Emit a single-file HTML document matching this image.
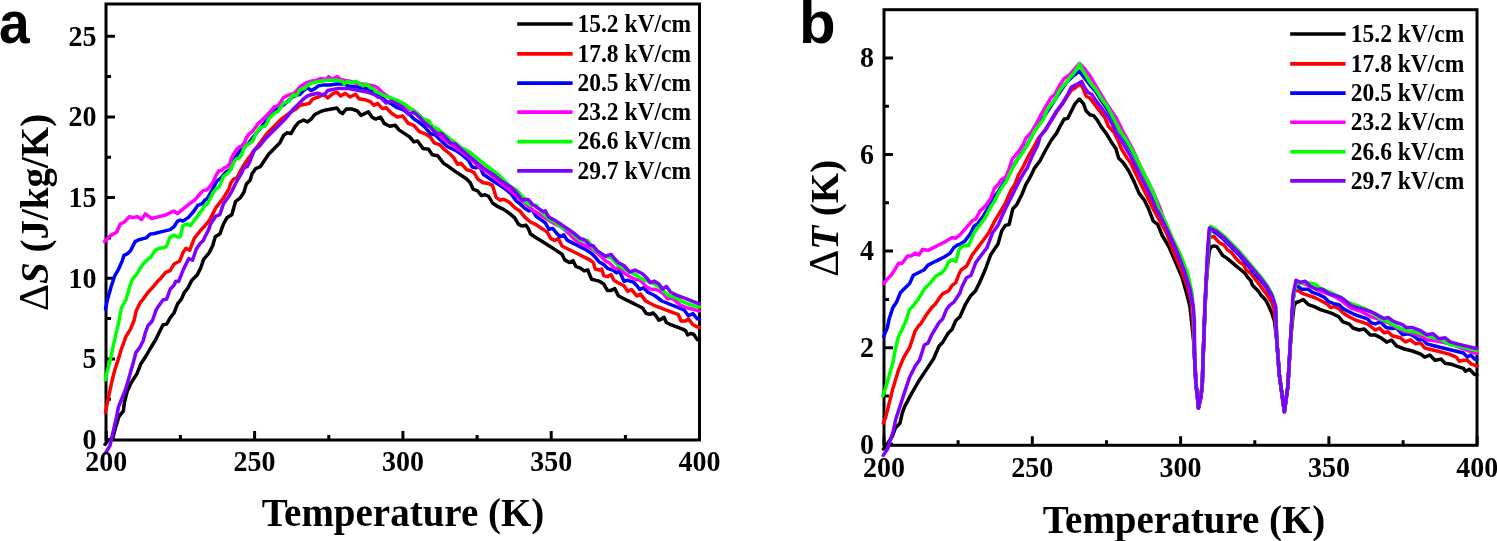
<!DOCTYPE html>
<html><head><meta charset="utf-8"><style>
html,body{margin:0;padding:0;background:#fff;width:1497px;height:541px;overflow:hidden}
svg{display:block;will-change:transform}
text{font-family:"Liberation Serif",serif;font-weight:bold;fill:#000}
.tl text{font-size:28px}
.lt{font-size:23.5px}
.at{font-size:39px}
.pl{font-family:"Liberation Sans",sans-serif;font-size:60px}
</style></head><body>
<svg width="1497" height="541" viewBox="0 0 1497 541">
<text transform="translate(-1 43.3) scale(0.92 1)" class="pl">a</text>
<text x="799" y="43.4" class="pl">b</text>
<rect x="106" y="4" width="593.5" height="436" fill="none" stroke="#000" stroke-width="3"/>
<path d="M106 439.6h9M106 358.9h9M106 278.2h9M106 197.6h9M106 116.9h9M106 36.2h9M106 399.3h5M106 318.6h5M106 237.9h5M106 157.2h5M106 76.6h5M106.3 440v-9M254.6 440v-9M402.9 440v-9M551.2 440v-9M699.5 440v-9M180.4 440v-5M328.8 440v-5M477.1 440v-5M625.4 440v-5" stroke="#000" stroke-width="3" fill="none"/>
<g fill="none" stroke-width="3.5" stroke-linejoin="round" stroke-linecap="round"><polyline points="105,444.4 107.8,440.5 112.8,437.7 115.5,427.7 118.9,416.6 123.3,411.1 124.5,402 127,392 131,383 137,373.6 140.6,364.3 146,356 150,349 155.5,340 159.2,332.4 162.9,325 166.6,324.1 170.3,317.6 174,313 177.7,303.7 181.4,299.1 184.2,292.7 187.9,288 191.6,280.6 197.1,275.1 200.8,267.7 203.6,259.4 209.1,252.9 212.8,245.5 215.2,236.8 219.8,234.1 223.5,223.9 227.2,217.4 231.8,214.7 235.5,201.7 240.1,198 243.8,192.5 246.4,184 250.1,180.3 252,173.8 255.8,168.5 260.4,166.6 264.1,161.1 268.8,154 274.3,148.4 279.9,142.8 283.6,135.4 287.3,132.7 291,133.6 294.7,127.1 298.4,122.5 303.7,120 307.4,121.9 311.1,119.1 314.8,114.5 320.3,111.7 325.9,109.9 331.4,109 337,108 339.7,111.7 342.5,113.6 346.2,109 351.7,109 357.3,110.8 361,115.4 364.7,113.6 368.4,111.7 372.1,117.3 375.7,119.1 380.5,117 384.2,123.4 389.8,126.2 395.3,125.3 399,129.9 404.6,133.6 410.1,137.3 413.8,141.9 417.5,141 423,148.4 428.6,149.3 432.3,154.8 437.8,155.7 443.4,163.1 448.9,166.8 455.5,171.6 461.1,175.3 466.6,179 470.3,182.7 473.1,189.1 477.7,191 481.4,195.6 485.1,194.7 488.8,196.5 492.5,203 498,206.7 503.6,209.4 509.1,213.1 514.7,217.8 518.4,224.2 522.1,226.1 525.8,225.1 528.7,229.3 530.5,234 536.1,237.7 543.5,242.3 550.9,246.9 556.4,250.6 562,254.3 564.7,259.8 569.3,262.6 573,260.7 575.8,266.3 580.4,268.1 584.1,270.9 587.8,270 591.5,279.2 595.2,280.1 598.9,281.1 603.7,284 607.4,290.4 611.1,290.4 614.8,288.6 618.5,296 624,298.7 631.4,302.4 637,305.2 642.5,308 646.2,313.5 650,314.3 653,312.9 655.9,315.8 658.9,320.2 661.8,318.8 664,317.3 666.3,322.5 670.7,324.7 676.6,326.9 682.5,329.1 685.5,330.6 687.7,335 690.6,333.5 693.6,334.3 697.3,339.5 699.5,340" stroke="#000000"/><polyline points="105.4,412.5 107.5,402 109.2,394 112,381 114.8,369.9 118.5,358.8 121.2,349.6 125.9,336.6 130.5,329.2 134.2,320 136.2,310.7 140.2,302.7 142.5,300 148,292.4 153.7,286.2 157.4,281.6 161.1,277.9 165.7,272.3 170.3,270.5 174,264 179.6,261.2 183.3,252 186,248.3 189.7,250.2 192.5,242.8 194.5,238 201.4,229.4 205,225.7 208.8,221.1 210.5,218.4 216.1,207.3 223.5,198 229,188.8 230.7,183 233.5,179.3 237.2,177.5 240.9,170.1 243.6,165.5 247.3,159.9 250.1,156.2 253.8,150.7 255.9,148.4 261.4,141 267,133.6 274.3,126.2 281.7,118.8 289.1,113.3 296.5,108.6 300,105.3 305.5,104.3 309.2,103.4 312.9,98.8 318.5,97 324,94.2 327.7,97.9 333.3,93.3 337,92.3 340.6,96 345.3,93.3 349.9,97 355.4,94.2 359.1,98.8 364.7,99.7 370.2,101.6 373.9,105.3 377.6,103.4 382.4,108.6 386.1,107.7 391.6,113.3 397.2,117 402.7,116 408.3,123.4 413.8,125.3 419.3,131.7 424.9,133.6 430.4,137.3 434.1,142.8 439.7,144.7 445.2,150.2 450,154 453.7,157.7 457.4,164.2 461.1,163.3 466.6,169.7 470.3,170.6 474,172.5 477.7,179 483.3,182.7 488.8,183.6 492.5,185.4 496.2,197.4 499.9,200.2 503.6,199.3 509.1,202.1 514.7,207.6 520.2,211.3 525,217.3 530.5,222 536.1,224.7 541.6,228.4 547.2,232.1 550.9,238.6 554.6,240.4 558.3,238.6 562,246 567.5,248.7 573,251.5 578.6,254.3 584.1,257.1 589.7,259.8 593.4,262.6 595.2,269.1 598.9,270 601.7,269.1 603.7,275.6 607.4,276.6 611.1,274.7 613.9,280.3 618.5,283 624,285.8 627.7,291.4 631.4,289.5 637,296 640.6,294.1 645.3,300.6 650,303.2 655.9,306.2 661.8,308.4 667.7,310.6 673.6,312.9 678.1,314.3 681,321 685.5,321 688.4,318.8 692.9,324.7 697.3,326.9 699.5,327.5" stroke="#ff0000"/><polyline points="105.5,309 107.4,300 111.1,286.8 114.8,275.7 118.5,269.3 122.2,261 124,255.4 127.7,253.6 130.5,250.8 135.1,241.6 138.8,239.7 146.2,237.9 149.9,234.2 155.4,233.3 162.8,231.4 170.2,229.6 173.9,226.8 177.6,221.2 180.2,220.2 182.9,221.1 188.5,217.4 194,211 197.7,205.4 202.3,203.6 205,199.9 207,199 212.4,189.5 216.8,181.2 220.5,178.4 226.1,172 230.7,169.2 233.5,160.9 238.1,153.5 240.9,149.8 242.7,147.9 248,144 254,136 259,130 263.3,124.3 268.8,118 274,112 279,107.5 283.6,104.9 289,100 294,96 300,94.2 303.7,90.5 307.4,87.7 311.1,90.5 314.8,88.6 318.5,85.9 324,84.9 329.6,84.9 337,84 344.3,84 348,85.9 355.4,86.8 362.8,87.7 370.2,89.6 375.5,94 380.5,96.5 386.1,101.2 391.6,104 397.2,107.7 402.7,109.6 408.3,113.3 413.8,118.8 419.3,122.5 424.9,127.1 430.4,133.6 436,135.4 441.5,141 447.1,146.5 452.6,149 455.5,150.3 461.1,154 468.5,160.5 472.2,167 475.9,167.9 479.6,166 483.3,174.3 488.8,178 494.3,181.7 499.9,185.4 505.4,189.1 511,193.7 516.5,201.1 520.2,203.9 523.9,207.6 528.7,210.9 532.4,209.9 536.1,216.4 541.6,220.1 545.3,222.9 549,229.3 552.7,228.4 556.4,233 560.1,236.7 563.8,234.9 567.5,240.4 574.9,244.1 580.4,246.9 586,249.7 591.5,253.4 595.2,257.1 598.9,261.7 603.7,264.6 607.4,268.3 612.9,270.1 616.6,272.9 619.4,271 624,281.2 627.7,280.3 633.3,282.1 637,285.8 639.7,289.5 643.4,287.7 648,292.3 655.4,296 661.8,301 669.2,304 676.6,306.9 684,309.9 688.4,315.8 692.9,313.6 697.3,318.8 699.5,319" stroke="#0000ff"/><polyline points="104.6,241.6 111.1,235.1 116.6,232.3 120.3,224 124,222.2 129.6,216.6 133.3,217.6 137,216.6 141.6,219.4 145.3,213.9 149,216.6 151.7,218.5 159.1,216.6 166.5,214.8 170,212.8 173.7,211 177.4,213.7 182.9,209.1 188.5,204.5 194.9,199.9 199.6,194.3 203.3,190.6 207,189.7 210.5,186 213,182 215.9,175.6 218.7,171 221.5,170.6 224.2,167.8 227,166.9 229.8,163.6 231.6,158.1 233.5,154.4 236.2,149.8 239,147 241.8,146.1 244.6,142.4 246.4,137.8 248.5,134.5 252.2,131.7 257.7,124.3 263.3,118.8 268.8,113.3 274.3,106.8 278,105.9 283.6,97.6 289.1,94.8 294.7,92.9 300,87 305.5,83.1 311.1,81.2 316.6,80.3 320.3,78.5 325.9,79.4 328.6,76.6 332.3,79.4 337,76.6 340.6,79.4 344.3,80.3 349.9,81.2 355.4,83.1 362.8,84 368.4,84.9 373.9,85.9 377.6,87.7 383,93 390,98 397,103 405,108 413.8,110.5 420,117 428,124 435,131 441.5,137.3 448,142 455,147 462,152 470,158 476,164 483.3,169.7 490.6,174.3 501.7,183.6 511,191 520.2,199.3 525.8,203.9 532.4,209.9 539.8,214.6 547.2,219.2 554.6,223.8 562,227.5 569.3,234 576.7,241.4 584.1,245 591.5,248.7 598.9,254.3 605.5,260.9 609.2,262.7 614.8,268.3 620.3,268.3 624,272.9 629.6,276.6 635.1,279.3 640.6,280.3 646.2,286.7 651.7,289.5 654.4,289.2 658.9,290.7 663.3,293.6 667.7,298.8 672.2,298.1 676.6,301.8 681,305.5 686.9,307.7 692.9,309.2 697.3,310.6 699.5,311" stroke="#ff00ff"/><polyline points="105.4,379.8 107,372 109.2,364.3 112.9,347.7 116.6,331.1 118.5,323.7 121.4,308 125.9,300 129.6,286.8 132.3,279.4 137,273.9 142.5,264.7 148,259.1 150.8,257.3 155.4,249.9 157.4,249.2 161,248 164.8,247.4 166.5,246.2 170.2,237 173.9,235.1 177.6,237 180.2,236.8 182.9,225.7 186.6,223.9 190.3,225.7 195.9,218.4 201.4,211 205,205.4 207,204.5 210.5,198 213,193 216.1,188.8 219,187 220.5,184 223.3,176.6 227,173.8 230.7,170.1 233.5,162.7 236.2,159 239,158.1 241.8,154.4 243.6,148.9 246.4,145.2 250.1,143.3 252.9,140.5 255.9,133.6 259.6,128 265.1,126.2 268.8,118.8 274.3,113.3 278,111.4 283.6,103.1 289.1,101.2 292.8,94.8 296.5,95.7 300.2,89.5 303.8,89 309.2,84 314.8,82.2 320.3,81.2 327.7,80.3 337,80.3 342.5,81.2 344.3,84 348,81.2 351.7,83.1 355.4,81.2 359.1,83.1 362.8,85.9 366.5,84 370.2,87.7 373.9,88.6 375,91.1 382.4,94.8 389.8,97.6 397.2,100.3 404.6,104 410.1,108.6 417.5,113.3 423,118.8 428.6,120.6 432.3,126.2 437.8,129 443.4,133.6 448.9,138.2 455.5,142.9 461.1,147.6 466.6,150.3 472.2,154 477.7,158.6 487,166 498,174.3 509.1,185.4 516.5,190 523.9,198.4 525,201.6 530.5,205.3 536.1,205.3 541.6,211.8 549,219.2 554.6,222 562,227.5 569.3,230.3 574.9,235.8 580.4,240.4 587.8,240.4 593.4,248.7 598.9,252.4 605,256.1 611.1,258.1 618.5,265.5 628,271 637,275.6 642.5,279.3 649,281.5 654.4,284 660.3,287.7 664.8,292.2 669.2,295.9 675.1,297.3 681,301 688.4,304 697.3,306.9 699.5,307" stroke="#00ff00"/><polyline points="105.5,453.2 110,445.5 113.3,431 116.6,416.6 118.5,406.8 122.2,397.6 125.9,388.4 129.6,375.4 133.3,362.5 136,352.3 139.7,347.7 143.4,340.3 145.3,332.9 148,325.5 150.8,322.8 152.7,320 156.3,309.4 158.3,306.5 162.9,300 166.6,299.1 170.3,289 174,285.3 175.7,281.3 178.6,281.6 183.3,269.6 188.8,258.5 192.5,260.3 196.2,249.2 199.9,243.7 203.3,240.5 205,236.8 208.8,229.4 210.5,223.9 214.3,218.4 215.2,216.5 219.8,214.7 223.5,203.6 229,196.2 232,191 235.3,184 239,177.5 241.8,172.9 243.6,168.3 247.3,166.4 250.1,160.9 252.9,153.5 254.7,149.8 259.6,146 265.1,139.1 270.6,133.6 278,126.2 285.4,118.8 292.8,109.6 296.5,105.9 300,102.5 303.7,98.8 307.4,96 312.9,94.2 318.5,93.3 324,95.1 327.7,90.5 337,88.6 348,88.6 359.1,90.5 368.4,92.3 375,94.8 377.6,97 380.5,97.6 386.1,103.1 391.6,101.2 397.2,104 402.7,107.7 408.3,114.2 413.8,112.3 419.3,117 424.9,123.4 430.4,127.1 436,133.6 441.5,133.6 447.1,139.1 450,142.9 455.5,143.9 461.1,149.4 466.6,154 472.2,158.6 477.7,163.3 483.3,167.9 488.8,171.6 494.3,175.3 499.9,179.9 505.4,183.6 511,187.3 516.5,192.8 522.1,200.2 525.8,199.3 528.7,199.8 532.4,204.4 537.9,208.1 543.5,211.8 545.3,210.9 549,217.3 554.6,220.1 560.1,223.8 565.6,227.5 571.2,231.2 574.9,234 580.4,238.6 584.1,239.5 589.7,245 593.4,246 597.1,250.6 600,252.6 605.5,256.2 611.1,254.4 614.8,259 618.5,262.7 624,265.5 629.6,272 635.1,270.1 642.5,273.8 648,279.3 650,282.6 654.4,281.1 658.9,284 662.6,289.2 666.3,286.3 670.7,292.2 676.6,295.1 682.5,297.3 688.4,299.6 697.3,303.2 699.5,303.5" stroke="#8000ff"/></g>
<g class="tl"><text transform="translate(96.5 448.9) scale(1 1.06)" text-anchor="end">0</text><text transform="translate(96.5 368.2) scale(1 1.06)" text-anchor="end">5</text><text transform="translate(96.5 287.6) scale(1 1.06)" text-anchor="end">10</text><text transform="translate(96.5 206.9) scale(1 1.06)" text-anchor="end">15</text><text transform="translate(96.5 126.2) scale(1 1.06)" text-anchor="end">20</text><text transform="translate(96.5 45.5) scale(1 1.06)" text-anchor="end">25</text><text transform="translate(106.3 470.9) scale(1 1.07)" text-anchor="middle">200</text><text transform="translate(254.6 470.9) scale(1 1.07)" text-anchor="middle">250</text><text transform="translate(402.9 470.9) scale(1 1.07)" text-anchor="middle">300</text><text transform="translate(551.2 470.9) scale(1 1.07)" text-anchor="middle">350</text><text transform="translate(699.5 470.9) scale(1 1.07)" text-anchor="middle">400</text></g>
<path d="M517.2 24H572.6" stroke="#000000" stroke-width="3.6"/><text transform="translate(577.5 31.8) scale(1 1.05)" class="lt">15.2 kV/cm</text><path d="M517.2 53.9H572.6" stroke="#ff0000" stroke-width="3.6"/><text transform="translate(577.5 61.7) scale(1 1.05)" class="lt">17.8 kV/cm</text><path d="M517.2 83.1H572.6" stroke="#0000ff" stroke-width="3.6"/><text transform="translate(577.5 90.9) scale(1 1.05)" class="lt">20.5 kV/cm</text><path d="M517.2 112.1H572.6" stroke="#ff00ff" stroke-width="3.6"/><text transform="translate(577.5 119.9) scale(1 1.05)" class="lt">23.2 kV/cm</text><path d="M517.2 141.6H572.6" stroke="#00ff00" stroke-width="3.6"/><text transform="translate(577.5 149.4) scale(1 1.05)" class="lt">26.6 kV/cm</text><path d="M517.2 170.9H572.6" stroke="#8000ff" stroke-width="3.6"/><text transform="translate(577.5 178.7) scale(1 1.05)" class="lt">29.7 kV/cm</text>
<text x="403" y="525.6" class="at" text-anchor="middle">Temperature (K)</text>
<text transform="translate(47.8 212.4) rotate(-90)" class="at" text-anchor="middle"><tspan font-weight="normal" font-size="42px">&#916;</tspan><tspan font-style="italic">S</tspan> (J/kg/K)</text>
<rect x="884" y="9.7" width="593" height="435.6" fill="none" stroke="#000" stroke-width="3"/>
<path d="M884 444.2h9M884 347.7h9M884 251.1h9M884 154.6h9M884 58h9M884 395.9h5M884 299.4h5M884 202.8h5M884 106.3h5M884 445.3v-9M1032.3 445.3v-9M1180.6 445.3v-9M1328.9 445.3v-9M1477.2 445.3v-9M958.1 445.3v-5M1106.5 445.3v-5M1254.8 445.3v-5M1403.1 445.3v-5" stroke="#000" stroke-width="3" fill="none"/>
<g fill="none" stroke-width="3.5" stroke-linejoin="round" stroke-linecap="round"><polyline points="883.5,449 887,444.5 890,440 892.2,436.6 895.5,427.7 899.9,423.3 902.2,413.3 904.5,406.8 911.4,393.9 918.8,381 926.2,369.9 933.6,358.8 939.1,345.9 942.8,342.2 948.4,332.9 952.1,329.2 955.8,320.5 960,316.8 965.4,304.3 970.9,295.4 975.4,291 979.8,282.1 985.1,270 990.6,255 994.3,249.4 998,243.9 1001.7,231 1005.4,225.4 1009.1,224.5 1012.8,208.8 1016.5,205.1 1022.1,194 1025.7,184.8 1030,177.4 1034.3,168.4 1039.9,161 1045.4,150.5 1051.1,140.5 1056.6,133.1 1060.3,125.8 1064,119.3 1067.7,118.4 1071.4,111 1075.1,103.6 1079.4,99 1083.4,103.6 1086.2,111 1089.9,114.7 1093.6,115.6 1097.3,120.2 1101.1,126.6 1106.6,134 1112.2,143.3 1115.9,148.8 1118.6,158 1123.3,162.7 1128.8,171 1134.3,182.1 1139,193.1 1144.5,200.5 1148.2,207.9 1153.3,221.1 1157.7,224.4 1162.2,235.5 1168.8,246.5 1175.5,262 1182.1,277.6 1186.5,293.1 1189.9,306.4 1191.4,319.9 1193.5,340 1194.6,357.6 1195.9,383.4 1197.9,401.5 1198.4,408 1201,396.4 1202.3,383.4 1203.1,357.6 1204.1,331.7 1205,306 1206.5,280 1208,262 1209.5,250 1211,247 1213.9,245.9 1216.8,246.6 1219.8,251.1 1222.7,255.5 1227.2,258.4 1231.6,262.1 1236,265.8 1240.5,269.5 1244.9,273.2 1247.9,277.6 1250.8,280.6 1252.3,285 1255.2,288 1258.2,290.9 1261.2,295.4 1264.1,298.3 1267.1,302.5 1271.9,313.4 1274.3,320.6 1276.7,339.4 1279.4,375.6 1283.6,406.1 1284.4,411.7 1287.8,386.7 1290.6,339.4 1293,315 1294.1,305.6 1296.1,302.5 1299.2,301.5 1303.2,299.5 1308.3,304.6 1314.4,306.6 1320.5,309.7 1326.6,311.7 1332.7,313.7 1338.8,316.8 1342.9,321.9 1349,323.9 1353,328 1359.1,330 1364.2,329 1370.3,335.1 1375.4,335.1 1381.5,338.1 1386.6,342.2 1391.7,340.2 1396.3,345.9 1404.4,349 1412.5,351 1420.7,354.1 1424.7,357.1 1429.8,355.1 1434.9,360.2 1441,359.1 1445.1,363.2 1451.2,364.2 1457.3,366.3 1463.4,368.3 1465.4,371.3 1469.5,369.3 1474.6,374.4 1477,375" stroke="#000000"/><polyline points="883.3,423.2 885.5,417.9 889.2,403.1 892.9,388.4 898.5,369.9 904,357 909.6,347.7 915.1,331.1 918.8,325.5 920.6,324.2 926.2,315 931.7,307.6 935.4,303.9 939.1,298.4 942.8,293.7 948.4,291 952.1,285.4 955.8,282.7 959,274 961.1,270 966.6,266.1 972.2,255 977.7,247.6 983.3,240.2 988.8,232.8 994.3,221.7 999.9,212.5 1005.4,203.3 1011,190.3 1014.7,184.8 1018.4,175 1023.3,166.5 1028.8,155.4 1034.3,146.2 1038,138.8 1041,135 1045.5,130 1051.1,121 1056.6,112 1062.2,104.5 1067.7,95.5 1071.5,90 1075.1,87.9 1079.7,84.2 1082.5,87 1086.2,96.2 1089.9,98 1095.4,105.4 1101,112.8 1104.8,117.4 1108.5,126.6 1114,132.2 1117.7,139.6 1121.4,148.8 1127,158 1130.6,162.7 1136.2,174.7 1141.7,185.8 1147.3,196.8 1151,204.2 1153.7,210 1159.9,221.1 1166.6,233.2 1173.2,251 1179.9,266.5 1186.5,284.2 1191,299.7 1192.7,319.9 1193.8,340 1194.6,357.6 1195.9,383.4 1197.9,401.5 1198.4,408 1201,396.4 1202.3,383.4 1203.1,357.6 1204.1,331.7 1205,306 1206.2,280 1208,255 1209.4,237.7 1213.9,236.3 1216.1,239.2 1219.8,242.9 1224.2,245.1 1227.2,249.6 1231.6,252.5 1236,258.4 1240.5,262.9 1243.4,264.3 1246.4,270.2 1250.8,273.2 1255.2,279.1 1259.7,285 1264.1,290.9 1267.1,295 1271.9,302.5 1274.3,311 1276.7,339.4 1279.4,375.6 1283.6,406.1 1284.4,411.7 1287.8,386.7 1290.6,339.4 1293.3,297.8 1294.7,290.8 1298.1,290.3 1302.2,293.4 1308.3,295.4 1314.4,297.5 1320.5,300.5 1326.6,303.6 1330.7,307.6 1334.7,306.6 1338.8,308.6 1342.9,312.7 1349,316.8 1355.1,319.8 1361.2,321.9 1367.3,323.9 1371.3,326.9 1375.4,330 1379.5,328 1384.1,332.7 1388.1,331.7 1392.2,335.8 1400.3,337.8 1405.4,341.9 1410.5,339.8 1415.6,343.9 1420.7,342.9 1424.7,348 1432.9,350 1441,352 1449.1,354.1 1456.2,357.1 1459.3,361.2 1463.4,360.2 1467.4,360.2 1471.5,364.2 1474.6,365.2 1477,366" stroke="#ff0000"/><polyline points="883.7,336.6 887.4,327.4 889.2,318.7 892.9,307.6 896.6,302.1 900.3,292.8 904,289.1 909.6,283.6 913.3,275.3 918.8,272.5 924.3,269.7 928,265.1 933.6,262.3 939.1,259.6 944.7,256.8 950.2,253.1 953.9,247.6 957.6,244.8 959.2,244.8 964.8,241.1 970.3,233.7 974,226.4 977.7,223.6 983.3,216.2 988.8,207 994.3,196.8 998,192.2 1003.6,182.9 1007.3,177.4 1012.2,168 1017.7,159 1023.3,151 1028.8,142 1034.3,131 1039.9,123 1045,115 1051,106 1056,98 1062,89 1067,82 1073,76 1079.4,71.2 1084.3,77.7 1090,85 1095.4,91 1101,100 1106.5,108 1112,117 1119.6,131 1127,143 1132.5,152 1138,163 1143.6,174 1149.1,185 1154.7,198 1159.3,211 1166,226 1172,241 1178,255 1184,270 1189,287 1192.5,305 1194,330 1194.6,357.6 1195.9,383.4 1197.9,401.5 1198.4,408 1201,396.4 1202.3,383.4 1203.1,357.6 1204.1,331.7 1204.5,320 1206,285 1208,250 1209.8,229 1216.6,233.5 1223.8,239.5 1231.1,247 1238.3,254 1245.5,262.5 1252.7,271 1259.9,279.5 1267.1,288.5 1271.9,296.5 1275.5,306.5 1276.7,339.4 1279.4,375.6 1283.6,406.1 1284.4,411.7 1287.8,386.7 1290.6,339.4 1293.3,297.8 1296.1,285.3 1298.1,286.3 1302.2,289.3 1308.3,289.3 1312.4,292.4 1318.5,294.4 1324.6,297.5 1328.6,301.5 1333.7,303.6 1338.8,304.6 1342.9,308.6 1349,311.7 1355.1,314.7 1361.2,316.8 1367.3,318.8 1371.3,322.9 1375.4,323.9 1380.5,321.9 1386.1,327.6 1392.2,328.6 1396.3,327.6 1402.4,334.7 1408.5,333.7 1413.6,335.8 1418.6,339.8 1422.7,338.8 1426.8,343.9 1434.9,346 1443,348 1451.2,350 1459.3,352 1463.4,353 1467.4,357.1 1470.5,355.1 1474.6,359.1 1477,359.5" stroke="#0000ff"/><polyline points="883.7,283.6 887.4,279 891.1,275.3 894.8,269.7 898.5,263.3 902.2,263.3 907.7,255.9 911.4,255.9 915.1,253.1 918.8,254.9 922.5,249.4 928,250.3 933.6,247.6 939.1,244.8 944.7,242 952.1,237.4 955.8,238.3 961.1,233.7 966.6,227.3 972.2,220.8 975.9,219 979.6,211.6 983.3,207.9 987,204.2 990.6,198.6 994.3,188.5 998,184.8 1001.7,179.2 1005.4,177.4 1008.8,170 1012.2,159.1 1017.7,152.7 1023.3,144.3 1026,137.9 1030.6,133.3 1036.2,124 1041,114.7 1046.4,105.4 1051.1,97.5 1054.8,94.3 1060.3,84.2 1064,78.6 1069.6,74.9 1075.1,68.5 1079.4,63.3 1084.3,68.5 1089.9,75.9 1095.4,85.1 1101,94.3 1106.5,103.6 1115.9,117.4 1123.3,132.2 1132.5,148.8 1141.7,169.1 1152.8,191.3 1160,208 1166,226 1172,240 1178,253 1184,268 1189,286 1192.5,305 1194,330 1194.6,357.6 1195.9,383.4 1197.9,401.5 1198.4,408 1201,396.4 1202.3,383.4 1203.1,357.6 1204.1,331.7 1204.5,320 1206,285 1208,250 1209.8,228 1216.6,231 1223.8,237 1231.1,244.5 1238.3,252 1245.5,260 1252.7,268.5 1259.9,277 1267.1,286.5 1271.9,295 1275.5,306 1276.7,339.4 1279.4,375.6 1283.6,406.1 1284.4,411.7 1287.8,386.7 1290.6,339.4 1293.3,297.8 1296.1,283 1302,283 1310,286 1318,290 1326,293 1334,296 1342,301 1351,308 1360,311 1371.3,316.8 1380,319.5 1388.1,322.5 1396.3,327.6 1402.4,330.7 1410.5,332.7 1420.7,335.8 1426.8,339.8 1434.9,340.8 1445.1,342.9 1453.2,344.9 1461.3,348 1469.5,351 1474.6,353 1477,353.5" stroke="#ff00ff"/><polyline points="882.8,395.8 885.5,388.4 889.2,375.4 892.9,362.5 895.7,347.7 898.5,336.6 902.2,329.2 905.9,321 909.6,309.4 913.3,305.8 918.8,298.4 924.3,289.1 929.9,283.6 935.4,276.2 941,273.4 944.7,269.7 948.4,262.3 952.1,259.6 955.8,261.4 959.2,249.4 962.9,245.8 968.5,245.8 974,232.8 979.6,225.4 985.1,218 990.6,207 994.3,201.4 998,194 1002.5,186.6 1007,180 1012.2,168.4 1017.7,159.1 1023.3,151.7 1028.8,142.5 1034.3,131.4 1039.9,124 1043.7,118.4 1047.4,109.1 1051.1,104.5 1054.8,99.9 1058.5,92.5 1062.2,87 1065.9,83.3 1069.6,77.7 1073.3,74 1077,68.5 1079.4,63.9 1082.5,70.3 1086.2,75.9 1089.9,82.3 1095.4,88.8 1101,98 1106.5,105.4 1112.1,115.5 1119.6,130.3 1127,141.4 1132.5,150.6 1138,161.7 1143.6,172.8 1149.1,183.9 1154.7,196.8 1159.3,210 1166.6,224.4 1173.1,239.9 1179.9,253.2 1187.6,273.1 1192.1,293.1 1194,320 1194.6,357.6 1195.9,383.4 1197.9,401.5 1198.4,408 1201,396.4 1202.3,383.4 1203.1,357.6 1204.1,331.7 1204.5,320 1206,285 1208,250 1210.6,226.3 1216.6,229.8 1223.8,235.8 1231.1,243 1238.3,250.3 1245.5,258.7 1252.7,267.2 1259.9,275.6 1267.1,285.3 1272,294 1275.5,306 1276.7,339.4 1279.4,375.6 1283.6,406.1 1284.4,411.7 1287.8,386.7 1290.6,339.4 1293.3,297.8 1296.1,283 1305.8,282.5 1314.2,283.9 1320,288 1330,292 1340,297 1346.9,301.5 1355,305 1367.3,309.7 1380,318.5 1388.1,321.5 1396.3,326.6 1406.4,330.7 1414.6,331.7 1420.7,333.7 1430.8,336.8 1441,339.8 1451.2,344.9 1461.3,346.9 1474.6,350 1477,350.5" stroke="#00ff00"/><polyline points="883.3,455.4 887.7,448.8 891.1,437.7 893.3,431 895.5,420 898.8,410 904,393.9 909.6,377.3 915.1,366.2 919.7,359.7 924.3,345 928,343.1 931.7,334.8 937.3,325.5 939.1,322.4 942.8,318.7 946.5,309.4 950.2,304.8 953.9,302.1 957.6,296.5 960,292.8 962.1,286.5 966.5,277.7 970.9,275.5 975.9,262.4 981.4,255 987,247.6 992.5,232.8 998,225.4 1003.6,212.5 1009.1,201.4 1014.7,190.3 1020.2,179.2 1025.7,170 1027,168.4 1032.5,155.4 1038,144.3 1040,136.8 1045.5,129.5 1051.1,120.2 1056.6,111 1062.2,103.6 1067.7,94.3 1071.4,87 1077,84.2 1081.6,81.4 1084.3,87 1088,92.5 1091.7,94.3 1095.4,99.9 1101,107.3 1106.5,114.7 1112.1,123.9 1117,134 1119.6,137.7 1125.1,147 1130.6,156.2 1136.2,167.3 1141.7,178.4 1147.3,189.4 1152.8,200.5 1156.5,210 1157.7,211.1 1164.4,224.4 1171,237.7 1177.7,253.2 1184.3,270.9 1189.9,288.6 1193.2,306.4 1194.3,319.9 1194.6,357.6 1195.9,383.4 1197.9,401.5 1198.4,408 1201,396.4 1202.3,383.4 1203.1,357.6 1204.1,331.7 1204.9,305.9 1206.2,280 1207.6,250 1209.4,228 1216.6,231.6 1223.8,237.6 1231.1,244.9 1238.3,252.1 1245.5,260.5 1252.7,268.9 1259.9,277.3 1267.1,286.9 1271.9,295.3 1275.5,306.2 1276.7,339.4 1279.4,375.6 1283.6,406.1 1284.4,411.7 1287.8,386.7 1290.6,339.4 1293,295 1296.1,280.2 1300.2,282.2 1305.2,281.2 1310.3,286.3 1316.4,289.3 1322.5,289.3 1328.6,293.4 1334.7,295.4 1340.8,297.5 1344.9,300.5 1351,305.6 1357.1,307.6 1361.2,308.6 1367.3,310.7 1371.3,311.7 1375.4,313.7 1380,316.4 1384.1,318.5 1388.1,317.5 1392.2,320.5 1396.3,322.5 1402.4,324.6 1406.4,327.6 1412.5,327.6 1420.7,330.7 1426.8,334.7 1432.9,333.7 1439,338.8 1445.1,337.8 1450.2,341.9 1457.3,343.9 1465.4,345.9 1474.6,348 1477,348.5" stroke="#8000ff"/></g>
<g class="tl"><text transform="translate(874 453.5) scale(1 1.06)" text-anchor="end">0</text><text transform="translate(874 357) scale(1 1.06)" text-anchor="end">2</text><text transform="translate(874 260.4) scale(1 1.06)" text-anchor="end">4</text><text transform="translate(874 163.9) scale(1 1.06)" text-anchor="end">6</text><text transform="translate(874 67.3) scale(1 1.06)" text-anchor="end">8</text><text transform="translate(884 476.9) scale(1 1.07)" text-anchor="middle">200</text><text transform="translate(1032.3 476.9) scale(1 1.07)" text-anchor="middle">250</text><text transform="translate(1180.6 476.9) scale(1 1.07)" text-anchor="middle">300</text><text transform="translate(1328.9 476.9) scale(1 1.07)" text-anchor="middle">350</text><text transform="translate(1477.2 476.9) scale(1 1.07)" text-anchor="middle">400</text></g>
<path d="M1290.2 34H1345.6" stroke="#000000" stroke-width="3.6"/><text transform="translate(1350.8 41.8) scale(1 1.05)" class="lt">15.2 kV/cm</text><path d="M1290.2 63.9H1345.6" stroke="#ff0000" stroke-width="3.6"/><text transform="translate(1350.8 71.7) scale(1 1.05)" class="lt">17.8 kV/cm</text><path d="M1290.2 93.1H1345.6" stroke="#0000ff" stroke-width="3.6"/><text transform="translate(1350.8 100.9) scale(1 1.05)" class="lt">20.5 kV/cm</text><path d="M1290.2 122.3H1345.6" stroke="#ff00ff" stroke-width="3.6"/><text transform="translate(1350.8 130.1) scale(1 1.05)" class="lt">23.2 kV/cm</text><path d="M1290.2 151.7H1345.6" stroke="#00ff00" stroke-width="3.6"/><text transform="translate(1350.8 159.5) scale(1 1.05)" class="lt">26.6 kV/cm</text><path d="M1290.2 180.9H1345.6" stroke="#8000ff" stroke-width="3.6"/><text transform="translate(1350.8 188.7) scale(1 1.05)" class="lt">29.7 kV/cm</text>
<text x="1184" y="532.8" class="at" text-anchor="middle">Temperature (K)</text>
<text transform="translate(838 218.3) rotate(-90)" class="at" text-anchor="middle"><tspan font-weight="normal" font-size="42px">&#916;</tspan><tspan font-style="italic">T</tspan> (K)</text>
</svg>
</body></html>
